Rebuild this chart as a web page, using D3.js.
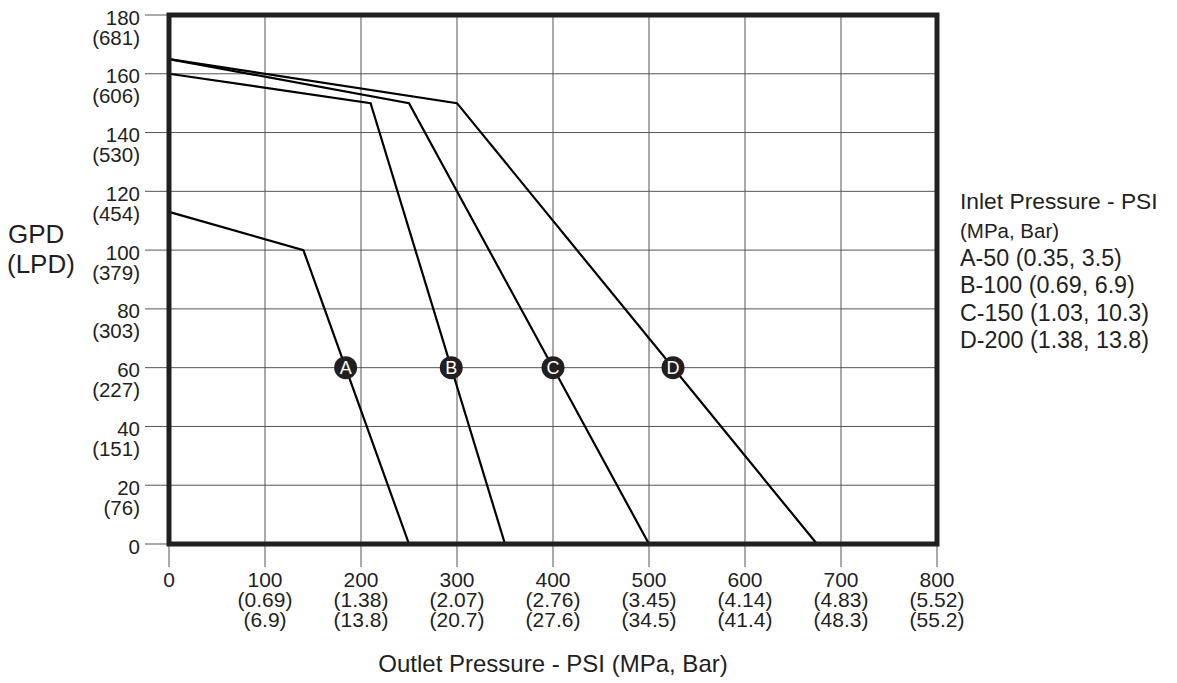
<!DOCTYPE html>
<html>
<head>
<meta charset="utf-8">
<script src="https://cdn.jsdelivr.net/npm/d3@7"></script>
<style>
  body { margin: 0; background: #fff; }
  svg text { font-family: "Liberation Sans", Arial, sans-serif; fill: #231f20; }
</style>
</head>
<body>
<svg width="1177" height="683"></svg>
<script>
// axis ticks (psi / gpd) and their metric labels
var xTicks = [0, 100, 200, 300, 400, 500, 600, 700, 800];
var xMpa = ["", "(0.69)", "(1.38)", "(2.07)", "(2.76)", "(3.45)", "(4.14)", "(4.83)", "(5.52)"];
var xBar = ["", "(6.9)", "(13.8)", "(20.7)", "(27.6)", "(34.5)", "(41.4)", "(48.3)", "(55.2)"];
var yTicks = [0, 20, 40, 60, 80, 100, 120, 140, 160, 180];
var yLpd = ["", "(76)", "(151)", "(227)", "(303)", "(379)", "(454)", "(530)", "(606)", "(681)"];

// curves: outlet psi vs gpd
var curveA = [[0, 113], [140, 100], [250, 0]];
var curveB = [[0, 160], [210, 150], [350, 0]];
var curveC = [[0, 165], [250, 150], [500, 0]];
var curveD = [[0, 165], [300, 150], [675, 0]];
var curveNames = ["A", "B", "C", "D"];
var labelGpd = 60;

var legendLines = ["A-50 (0.35, 3.5)", "B-100 (0.69, 6.9)", "C-150 (1.03, 10.3)", "D-200 (1.38, 13.8)"];

var svg = d3.select("svg");

var x = d3.scaleLinear().domain([0, 800]).range([169, 937]);
var y = d3.scaleLinear().domain([0, 180]).range([544, 15]);

// grid
var grid = svg.append("g").attr("stroke", "#555").attr("stroke-width", 1);
grid.selectAll(".vx").data(xTicks).enter().append("line")
    .attr("x1", function(d) { return x(d); }).attr("x2", function(d) { return x(d); })
    .attr("y1", y(180)).attr("y2", y(0) + 23);
grid.selectAll(".hy").data(yTicks).enter().append("line")
    .attr("y1", function(d) { return y(d); }).attr("y2", function(d) { return y(d); })
    .attr("x1", x(0) - 24).attr("x2", x(800));

// y labels
var yl = svg.append("g").attr("font-size", 20.5).attr("text-anchor", "end");
yTicks.forEach(function(d, i) {
  yl.append("text").attr("x", 140).attr("y", y(d) + 9.5).text(d);
  if (yLpd[i]) yl.append("text").attr("x", 140).attr("y", y(d) + 29.5).text(yLpd[i]);
});

// x labels
var xl = svg.append("g").attr("font-size", 21).attr("text-anchor", "middle");
xTicks.forEach(function(d, i) {
  xl.append("text").attr("x", x(d)).attr("y", 587).text(d);
  if (xMpa[i]) xl.append("text").attr("x", x(d)).attr("y", 607).text(xMpa[i]);
  if (xBar[i]) xl.append("text").attr("x", x(d)).attr("y", 627).text(xBar[i]);
});

// curves
var line = d3.line().x(function(d) { return x(d[0]); }).y(function(d) { return y(d[1]); });
var curves = [curveA, curveB, curveC, curveD];
svg.append("g").selectAll("path").data(curves).enter().append("path")
    .attr("d", line).attr("fill", "none").attr("stroke", "#000")
    .attr("stroke-width", 2.2).attr("stroke-linejoin", "miter");

// frame
svg.append("rect")
    .attr("x", x(0)).attr("y", y(180))
    .attr("width", x(800) - x(0)).attr("height", y(0) - y(180))
    .attr("fill", "none").attr("stroke", "#231f20").attr("stroke-width", 5);

// curve markers where each crosses labelGpd
function xAt(c, g) {
  for (var i = 0; i < c.length - 1; i++) {
    var a = c[i], b = c[i + 1];
    if ((g - a[1]) * (g - b[1]) <= 0) return a[0] + (g - a[1]) / (b[1] - a[1]) * (b[0] - a[0]);
  }
}
var mk = svg.append("g").selectAll("g").data(curves).enter().append("g")
    .attr("transform", function(d) { return "translate(" + x(xAt(d, labelGpd)) + "," + y(labelGpd) + ")"; });
mk.append("circle").attr("r", 11.5).attr("fill", "#231f20");
mk.append("text").attr("text-anchor", "middle").attr("y", 6.5).attr("font-size", 18)
    .style("fill", "#fff").text(function(d, i) { return curveNames[i]; });

// axis titles
svg.append("text").attr("x", 8).attr("y", 243).attr("font-size", 26).text("GPD");
svg.append("text").attr("x", 7).attr("y", 273).attr("font-size", 26).text("(LPD)");
svg.append("text").attr("x", 553).attr("y", 672).attr("font-size", 24)
    .attr("text-anchor", "middle").text("Outlet Pressure - PSI (MPa, Bar)");

// legend
var lg = svg.append("g").attr("transform", "translate(960,0)");
lg.append("text").attr("y", 209).attr("font-size", 22.8).text("Inlet Pressure - PSI");
lg.append("text").attr("y", 238).attr("font-size", 20.5).text("(MPa, Bar)");
lg.selectAll(".li").data(legendLines).enter().append("text")
    .attr("y", function(d, i) { return 266 + i * 27.3; })
    .attr("font-size", 23.3).text(function(d) { return d; });
</script>
</body>
</html>
